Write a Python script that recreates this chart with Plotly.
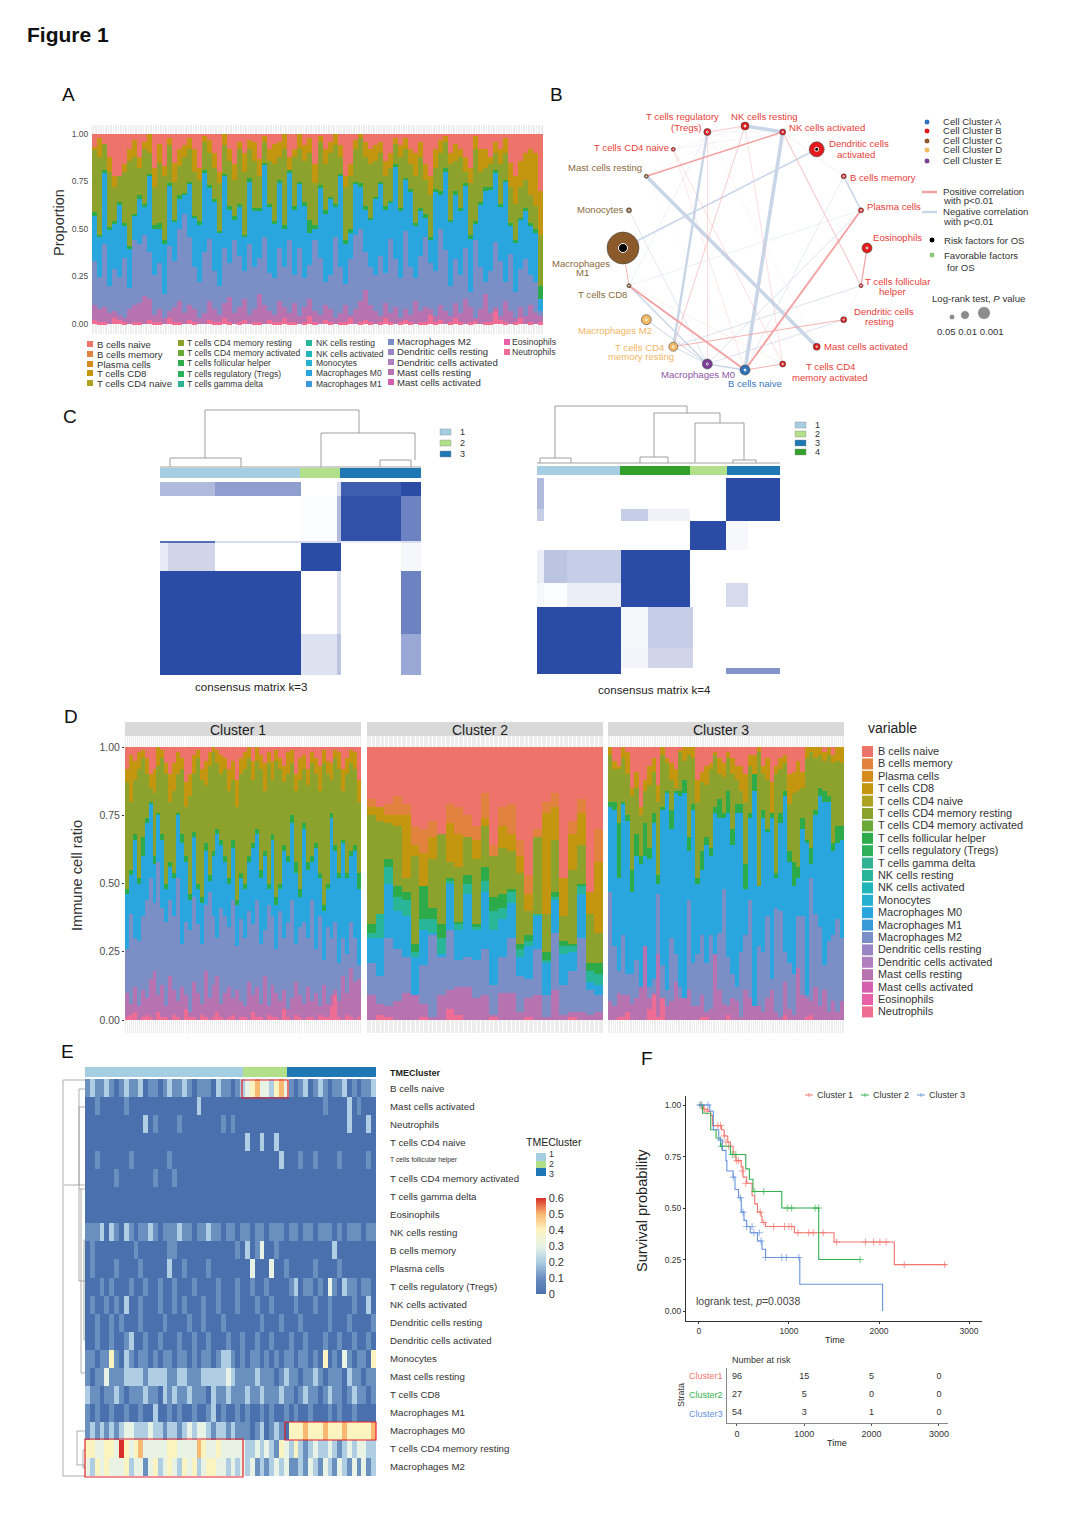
import numpy as np
import plotly.graph_objects as go

W, H = 1080, 1526
FONT = "Liberation Sans"

CELL_NAMES = ["B cells naive", "B cells memory", "Plasma cells", "T cells CD8", "T cells CD4 naive",
              "T cells CD4 memory resting", "T cells CD4 memory activated", "T cells follicular helper",
              "T cells regulatory (Tregs)", "T cells gamma delta", "NK cells resting", "NK cells activated",
              "Monocytes", "Macrophages M0", "Macrophages M1", "Macrophages M2", "Dendritic cells resting",
              "Dendritic cells activated", "Mast cells resting", "Mast cells activated", "Eosinophils", "Neutrophils"]
CELL_COLORS = ["#EE746B", "#E2823F", "#D68B1C", "#C4960F", "#AFA122", "#8DA22C", "#6AA93A", "#2DAB4A", "#2DB05A",
               "#2FB394", "#28B598", "#20B5B8", "#28B0D0", "#2AA6DE", "#3A9AD8", "#7B8EC6", "#9A84C4", "#B07FC0",
               "#B773B0", "#D45FAE", "#E860A8", "#EF6C95"]

# Panel A: upper edge of each visible layer per sample (percent)
a_neut = [2,1,1,0,3,2,1,0,1,1, 0,2,1,1,0,3,1,1,0,2, 1,0,0,2,1,1,3,1,0,1, 2,0,1,1,0,2,1,1,3,1, 1,0,1,4,1,0,2,1,0,1, 1,3,0,1,2,1,0,1,3,1, 0,1,2,1,0,1,1,5,1,2, 0,1,3,1,0,1,2,0,1,1, 7,2,1,0,1,3,0,1,0,1]
a_mast = [10,8,9,6,7,5,3,8,10,11, 15,13,5,8,3,7,9,12,6,10, 8,3,6,12,8,5,11,14,6,9, 13,5,8,16,10,7,5,12,9,6, 11,4,9,13,7,5,10,8,3,6, 10,5,8,12,18,10,7,4,11,6, 9,3,8,5,12,7,9,8,4,10, 7,4,11,6,13,9,3,8,16,6, 9,4,12,7,3,9,4,10,6,4]
a_m2 = [33,25,42,20,29,25,35,19,44,42, 47,38,26,32,16,41,33,50,58,46, 30,22,38,45,28,20,40,32,44,36, 28,42,30,35,46,27,24,40,30,44, 26,40,24,31,44,35,22,26,46,30, 21,34,47,50,38,30,26,36,27,45, 34,24,49,30,24,36,46,32,28,50, 39,20,34,26,40,17,44,30,22,28, 43,33,22,37,17,29,34,26,22,7]
a_m0 = [57,46,80,50,53,63,52,40,57,66, 62,78,50,50,42,73,54,66,68,74, 56,52,80,72,64,48,78,60,55,62, 46,75,60,60,84,62,53,74,50,80, 60,74,62,48,50,72,58,66,62,78, 42,48,74,72,60,55,66,74,60,64, 83,60,76,70,52,60,56,44,70,68, 80,54,68,60,73,45,53,63,70,71, 80,62,75,52,43,55,60,52,48,13]
a_green = [59,47,81,51,54,64,53,41,58,68, 63,79,52,53,44,74,55,68,69,75, 57,54,81,73,66,49,79,62,57,63, 47,77,61,61,85,63,54,76,52,81, 62,75,64,55,52,73,60,67,63,79, 44,50,75,74,62,56,67,75,62,65, 84,61,77,71,53,61,58,46,71,70, 82,55,70,61,74,47,54,64,72,72, 81,63,76,53,44,56,61,53,50,20]
a_olive = [92,88,95,80,72,78,80,86,88,82, 92,90,72,85,78,94,75,83,88,92, 80,76,96,90,82,74,94,86,76,92, 80,92,86,78,96,86,84,88,92,80, 88,92,86,90,74,96,84,90,94,88, 72,78,92,98,88,84,86,90,78,82, 95,88,92,84,78,88,76,68,82,90, 96,84,86,88,80,74,92,80,82,84, 90,84,90,72,63,72,76,68,62,47]
a_gold = [93,98,91,88,78,74,84,92,97,88, 96,100,82,95,83,98,85,92,94,98, 92,82,99,97,90,80,100,92,84,96, 90,97,96,87,99,92,95,96,100,88, 92,100,94,98,84,99,92,96,100,94, 78,84,97,100,96,92,94,96,86,90, 98,94,98,92,90,96,84,78,92,97, 99,90,95,92,88,82,99,92,92,88, 96,92,98,85,78,86,90,92,90,70]

# Panel D, Cluster 1
d1_neut = [1,2,3,0,1,2,1,0,3,1, 1,0,2,1,0,4,1,1,0,2, 1,0,1,3,1,0,1,2,0,1, 1,0,3,1,1,0,2,1,1,0, 4,1,0,2,1,0,1,1,0,2, 1,1,5,9,1,0,2,1,0,1]
d1_mast = [10,6,12,5,11,8,15,18,9,13, 5,16,11,7,12,9,3,14,10,6, 18,8,13,16,6,10,12,8,11,7, 5,14,9,12,6,16,5,13,10,7, 11,4,8,14,9,6,12,7,10,5, 13,6,9,11,7,16,10,19,14,15]
d1_m2 = [26,39,30,29,38,44,52,43,58,41, 36,44,38,52,28,36,33,45,35,28, 42,47,38,30,41,38,34,44,27,37, 30,40,35,44,28,33,42,38,26,40, 30,36,44,28,34,36,30,44,26,38, 22,34,30,36,21,30,24,36,30,20]
d1_m0 = [46,53,66,50,60,72,79,57,75,66, 48,56,52,75,65,58,44,67,48,43, 62,51,60,68,64,58,50,63,42,52, 48,58,63,68,52,60,48,66,42,48, 62,58,72,54,45,70,55,58,63,52, 40,48,74,62,52,65,52,60,62,48]
d1_green = [48,55,68,52,67,74,80,60,76,68, 50,58,54,76,68,60,46,69,50,45, 65,53,62,70,66,60,52,66,44,54, 50,60,65,70,55,62,50,68,45,50, 64,60,75,58,48,72,58,60,65,54, 42,50,76,64,54,66,54,62,64,54]
d1_olive = [87,80,88,92,96,90,85,83,93,96, 90,80,84,90,92,78,82,90,96,88, 86,93,98,94,90,92,84,88,78,90, 92,96,88,95,92,84,94,88,95,92, 87,90,94,84,88,92,86,94,90,84, 94,90,88,96,92,84,90,94,92,80]
d1_gold = [92,97,95,98,99,96,90,92,100,99, 94,90,94,98,96,87,90,97,99,92, 95,98,100,99,97,96,92,95,88,96, 98,100,95,100,97,94,98,95,99,96, 93,98,99,90,96,97,92,98,96,93, 99,95,94,99,98,92,96,99,98,88]

# Panel D, Cluster 2
d2_neut = [0,2,1,0,0,0,1,0,0,4, 2,0,0,0,1,0,0,0,1,0, 0,0,0,1,0,0,0]
d2_mast = [9,6,5,7,10,9,6,1,9,11, 12,12,8,9,2,10,10,3,8,9, 1,11,2,3,3,2,3]
d2_m2 = [21,16,30,26,23,9,20,31,23,33, 22,23,22,26,13,23,30,16,15,26, 9,32,13,18,30,11,9]
d2_m0 = [30,30,50,40,38,23,33,32,24,50, 33,46,33,47,33,37,43,23,27,38, 21,44,24,25,46,14,13]
d2_teal = [32,39,56,45,44,25,37,37,30,51, 35,50,34,51,40,41,47,26,29,39, 22,45,27,27,49,18,17]
d2_green = [35,39,59,49,47,28,49,41,35,52, 36,53,35,56,45,46,48,28,31,39, 25,47,29,28,50,21,21]
d2_olive = [75,73,72,71,52,60,49,59,68,58, 56,67,59,71,60,63,62,54,40,67, 39,66,38,55,64,39,32]
d2_gold = [78,78,75,75,75,64,61,67,61,72, 68,66,66,74,58,71,68,60,46,65, 76,78,52,68,76,47,58]
d2_orange = [81,78,79,82,79,71,70,73,63,79, 78,75,71,83,64,78,79,66,53,70, 80,83,52,73,81,47,70]

# Panel D, Cluster 3 (54 samples)
d3_neut = [0,0,1,1,3,0,0,0,0,4, 9,1,8,0,0,0,0,0,0,0, 0,1,1,0,0,0,0,2,0,0, 0,0,0,0,0,0,0,0,0,0, 2,0,0,0,0,1,2,0,0,0, 0,0,0,0]
d3_mast = [7,5,10,9,9,6,8,12,27,8, 10,24,6,5,7,14,8,8,11,5, 5,9,3,4,24,11,6,5,8,7, 1,11,8,5,5,3,8,11,3,1, 14,4,2,19,9,8,7,12,5,11, 3,7,3,7]
d3_m2 = [47,27,18,31,17,17,22,12,27,12, 15,46,20,11,30,24,12,8,44,21, 24,31,21,31,14,32,48,23,17,12, 25,31,44,2,27,25,38,15,41,40, 25,21,17,38,38,9,52,39,34,20, 29,31,37,30]
d3_m0 = [78,77,52,79,73,47,60,57,60,59, 72,50,77,83,70,83,82,83,62,77, 50,55,64,60,76,74,74,76,64,76, 76,48,74,84,49,74,69,74,52,72, 82,58,49,52,70,65,57,75,82,80, 80,62,65,66]
d3_green = [80,80,72,80,75,55,68,60,72,63, 76,53,78,84,77,84,84,88,67,79, 52,62,67,63,78,81,76,84,70,79, 79,57,76,90,49,77,70,76,54,76, 84,62,58,56,74,66,63,77,85,84, 82,65,71,71]
d3_olive = [97,92,92,96,90,82,85,75,84,86, 91,80,97,94,88,85,98,95,97,96, 80,87,86,92,97,90,89,96,90,88, 84,80,93,90,98,90,88,72,90,92, 94,79,83,84,85,96,98,96,97,95, 97,94,95,94]
d3_gold = [100,95,93,100,98,85,91,78,88,93, 96,86,100,96,94,92,99,100,100,100, 88,91,93,94,98,96,94,98,96,93, 93,90,97,97,100,93,96,87,93,96, 97,90,91,95,91,100,100,100,100,98, 100,97,100,100]

# Panel C: consensus matrices as block values
k3_x = [0, .03, .209, .54, .68, .693, .925, 1]
k3_y = [0, .074, .308, .316, .459, .79, 1]
k3_z = [[.4, .4, .55, 0, .2, .9, 1],
        [0, 0, 0, .02, .4, .97, .7],
        [.8, .8, .2, .2, .3, .1, .2],
        [.12, .25, 0, 1, 1, 0, .05],
        [1, 1, 1, 0, .2, 0, .7],
        [1, 1, 1, .18, .35, 0, .5]]
k4_x = [0, .03, .125, .345, .455, .63, .643, .779, .87, 1]
k4_y = [0, .16, .22, .366, .537, .656, .868, .97, 1]
k4_z = [[.4, 0, 0, 0, 0, 0, 0, 1, 1],
        [.3, 0, 0, .3, .08, 0, 0, 1, 1],
        [0, 0, 0, 0, 0, 1, 1, .04, 0],
        [.1, .35, .3, 1, 1, 0, 0, 0, 0],
        [.04, .02, .1, 1, 1, .03, 0, .22, 0],
        [1, 1, 1, .05, .3, .3, 0, 0, 0],
        [1, 1, 1, .06, .25, .25, 0, 0, 0],
        [1, 1, 1, 0, 0, 0, 0, .6, .6]]

# Panel B: correlation network
node_names = ["NK cells resting", "NK cells activated", "Dendritic cells activated", "B cells memory", "Plasma cells",
              "Eosinophils", "T cells follicular helper", "Dendritic cells resting", "Mast cells activated",
              "T cells CD4 memory activated", "B cells naive", "Macrophages M0", "T cells CD4 memory resting",
              "Macrophages M2", "T cells CD8", "Macrophages M1", "Monocytes", "Mast cells resting",
              "T cells CD4 naive", "T cells regulatory (Tregs)"]
node_group = list("BBBBBBBBBBAEDDCCCCBB")
node_size = [8, 6, 15, 5, 5, 10, 4, 6, 7, 6, 10, 10, 9, 10, 4, 32, 5, 4, 4, 7]
node_dot = [2, 1.5, 4, 1.5, 1.5, 2, 1, 1.5, 1.5, 1.5, 2, 2, 2, 2, 1, 9, 1.5, 1, 1, 2]
node_dot_kind = list("GRRRRRRRRRGRGGRRRRRR")
pos_edges = [(17, 1, 1.4), (19, 0, .7), (14, 10, 1.8), (10, 4, 1.8), (5, 6, 1.2), (15, 14, .9), (10, 9, .9), (12, 7, .9),
             (1, 6, .8), (0, 12, .7), (19, 11, .6), (0, 9, .5), (18, 9, .5), (18, 10, .4), (1, 3, .3), (14, 9, .3),
             (19, 8, .2), (0, 17, .2), (18, 0, .2)]
neg_edges = [(0, 1, 3.6), (1, 10, 3.6), (17, 8, 3.6), (19, 12, 2.4), (15, 2, 1.6), (3, 4, 1.6), (14, 11, 1.4),
             (11, 10, 1.4), (13, 11, 1), (12, 11, .9), (12, 6, .8), (11, 4, .8), (11, 7, .8), (14, 4, .5), (14, 19, .5),
             (16, 11, .7), (10, 3, .6), (6, 7, .3), (18, 1, .4), (19, 1, .4), (17, 10, .2)]

# Panel E: heat map rows (top to bottom), values in tenths
hm_labels = ["B cells naive", "Mast cells activated", "Neutrophils", "T cells CD4 naive", "T cells follicular helper",
             "T cells CD4 memory activated", "T cells gamma delta", "Eosinophils", "NK cells resting", "B cells memory",
             "Plasma cells", "T cells regulatory (Tregs)", "NK cells activated", "Dendritic cells resting",
             "Dendritic cells activated", "Monocytes", "Mast cells resting", "T cells CD8", "Macrophages M1",
             "Macrophages M0", "T cells CD4 memory resting", "Macrophages M2"]
r01 = [1,2,1,1,2,1,0,1,2,1,1,2,0,1,1,0,1,2,1,1,2,1,0,1,1,1,0,2,1,1,0,1,2, 3,4,5,3,3,2,4,5,3, 1,0,1,2,0,1,2,1,0,1,1,2,0,1,0,1,1,2]
r02 = [0,0,1,0,0,0,0,0,1,0,0,0,0,0,0,0,0,0,0,0,0,0,0,2,0,0,0,0,0,0,0,0,0, 0,0,0,0,0,0,0,0,0, 0,0,0,0,0,0,0,1,0,0,0,0,2,0,1,0,0,0]
r03 = [0,0,0,0,0,0,0,0,0,0,0,0,2,0,1,0,0,0,0,1,0,0,0,0,0,0,0,0,1,0,1,0,0, 0,0,0,0,0,0,0,0,0, 0,0,0,0,0,0,0,0,0,0,0,0,2,0,0,0,2,0]
r04 = [0,0,0,0,0,0,0,0,0,0,0,0,0,0,0,0,0,0,0,0,0,0,0,0,0,0,0,0,0,0,0,0,0, 2,0,0,2,0,0,2,0,0, 0,0,0,0,0,0,0,0,0,0,0,0,0,0,0,0,0,0]
r05 = [0,0,1,0,0,0,0,0,0,1,0,0,0,0,0,0,0,1,0,0,0,0,0,0,0,0,0,0,0,0,0,0,0, 0,0,0,0,0,0,0,2,0, 0,0,1,0,0,1,0,0,0,0,1,0,0,0,0,0,1,0]
r06 = [0,0,0,0,0,0,1,0,0,0,0,0,0,0,1,0,0,0,1,0,0,0,0,0,0,0,0,0,0,0,0,0,0, 0,0,0,0,0,0,0,0,0, 0,0,0,0,0,0,0,0,0,0,0,0,0,0,0,0,0,0]
r07 = [0,0,0,0,0,0,0,0,0,0,0,0,0,0,0,0,0,0,0,0,0,0,0,0,0,0,0,0,0,0,0,0,0, 0,0,0,0,0,0,0,0,0, 0,0,0,0,0,0,0,0,0,0,0,0,0,0,0,0,0,0]
r08 = [0,0,0,0,0,0,0,0,0,0,0,0,0,0,0,0,0,0,0,0,0,0,0,0,0,0,0,0,0,0,0,0,0, 0,0,0,0,0,0,0,0,0, 0,0,0,0,0,0,0,0,0,0,0,0,0,0,0,0,0,0]
r09 = [1,1,1,2,0,2,1,0,2,1,0,1,1,2,1,0,1,1,1,2,1,1,0,1,1,2,1,1,0,1,1,0,1, 1,0,1,1,0,1,1,1,0, 1,1,0,1,1,0,1,1,1,0,1,0,1,1,1,0,1,1]
r10 = [0,1,0,0,0,0,0,0,0,0,1,0,0,0,0,0,0,1,1,0,0,0,0,0,0,0,0,0,0,0,0,1,0, 2,0,1,3,0,0,1,0,0, 0,0,0,0,0,0,0,0,0,2,0,0,0,0,0,0,0,0]
r11 = [0,1,0,0,0,0,1,0,0,0,0,1,0,0,0,0,0,2,0,0,1,0,0,0,0,1,0,0,0,0,0,0,0, 0,3,0,0,0,3,0,0,1, 0,0,0,0,0,1,0,0,0,0,1,0,0,0,0,0,0,0]
r12 = [0,0,0,1,0,1,0,0,0,1,0,0,1,0,0,1,0,0,1,0,0,0,1,0,0,0,0,1,0,0,0,1,0, 0,1,0,0,1,0,0,0,0, 1,2,0,1,1,0,1,0,3,1,0,2,1,1,0,1,1,0]
r13 = [0,1,0,0,1,0,1,0,2,0,0,1,0,0,0,1,0,0,1,0,1,0,0,0,1,0,0,1,0,0,0,1,0, 0,0,1,0,0,1,0,0,0, 0,1,0,0,0,1,0,0,1,0,0,0,0,1,0,0,2,0]
r14 = [0,0,1,0,0,1,0,1,0,0,0,1,0,0,0,0,1,0,0,0,0,1,0,0,1,0,0,0,1,0,0,0,0, 0,0,0,1,0,0,0,1,0, 0,0,1,0,0,0,0,0,1,0,0,0,1,0,0,0,0,1]
r15 = [0,0,1,0,0,1,0,0,1,2,0,0,1,0,0,1,0,0,0,1,0,0,1,0,0,1,0,0,0,1,0,0,1, 0,0,1,0,0,1,0,0,0, 1,0,0,1,0,0,0,1,0,0,1,0,0,1,0,0,1,0]
r16 = [1,1,0,1,1,4,1,0,2,1,0,1,1,0,1,0,1,1,0,1,1,0,1,0,1,1,0,1,2,2,1,0,1, 0,1,1,0,1,0,1,0,1, 1,0,1,1,0,1,0,4,0,1,0,3,1,0,1,1,0,4]
r17 = [1,0,1,1,3,1,1,1,2,2,2,2,1,2,2,2,2,1,1,2,2,1,1,1,2,2,2,2,2,3,2,1,1, 1,1,2,1,1,1,0,1,2, 1,1,0,1,1,2,1,0,1,1,1,0,2,1,1,0,1,1]
r18 = [2,1,1,0,1,1,2,1,0,1,1,1,2,1,1,0,2,1,2,1,1,2,1,1,1,0,2,1,1,2,1,1,1, 2,1,1,2,1,1,1,2,1, 1,0,1,2,1,1,0,1,2,1,1,0,1,2,1,1,0,1]
r19 = [1,0,1,0,0,1,0,0,1,0,0,1,0,0,2,0,0,1,0,1,0,0,1,0,0,1,2,0,1,0,0,1,0, 1,0,0,1,0,1,0,0,1, 0,1,0,0,1,0,0,0,1,0,1,0,0,1,0,0,0,0]
r20 = [1,2,1,2,1,2,1,2,3,3,2,2,2,3,2,2,1,2,2,1,2,3,2,3,3,2,1,2,2,1,2,1,1, 1,0,1,2,0,1,2,1,0, 4,4,4,5,4,4,4,5,4,4,4,5,4,4,4,4,4,5]
r21 = [4,4,3,3,4,4,3,6,4,3,4,5,3,3,3,3,3,4,4,3,3,3,3,5,4,3,3,4,3,3,3,3,3, 2,2,3,2,3,2,1,4,3, 2,4,2,1,2,3,2,2,3,2,1,2,3,2,3,3,2,2]
r22 = [3,2,4,3,4,3,3,3,4,2,3,3,1,3,4,2,3,4,3,2,4,3,4,2,3,4,4,3,3,2,3,2,3, 2,3,1,2,1,2,3,2,3, 1,1,2,1,3,2,1,3,2,1,3,2,1,3,1,3,1,2]
hm_rows = [r01, r02, r03, r04, r05, r06, r07, r08, r09, r10, r11, r12, r13, r14, r15, r16, r17, r18, r19, r20, r21, r22]

# Panel F: Kaplan-Meier curves
km1_t = [0, 50, 100, 130, 150, 250, 280, 320, 350, 380, 410, 470, 490, 530, 590, 620, 650, 690, 700, 740, 1060, 1500, 2170, 2750]
km1_s = [1, .98, .97, .95, .90, .88, .85, .82, .80, .76, .73, .70, .65, .62, .56, .52, .48, .46, .43, .41, .38, .335, .225, .225]
km2_t = [0, 40, 130, 190, 240, 350, 520, 560, 600, 920, 1330, 1790]
km2_s = [1, .96, .88, .84, .80, .76, .69, .64, .58, .50, .25, .25]
km3_t = [0, 120, 160, 220, 260, 300, 310, 380, 400, 440, 470, 500, 530, 570, 650, 700, 740, 1120, 2040]
km3_s = [1, .97, .88, .83, .78, .73, .68, .65, .59, .55, .48, .44, .41, .38, .34, .30, .26, .13, 0]
cen1_t = [20, 60, 90, 210, 240, 280, 300, 330, 390, 420, 440, 480, 520, 680, 720, 830, 950, 1000, 1030, 1100, 1220, 1270, 1380, 1530, 1850, 1940, 2010, 2080, 2280, 2730]
cen1_s = [1, .98, .97, .90, .90, .85, .82, .80, .76, .73, .73, .68, .62, .48, .43, .41, .41, .41, .41, .38, .38, .38, .38, .335, .335, .335, .335, .335, .225, .225]
cen2_t = [30, 250, 370, 410, 620, 720, 980, 1030, 1290, 1330, 1790]
cen2_s = [1, .80, .76, .76, .58, .58, .50, .50, .50, .50, .25]
cen3_t = [10, 100, 240, 380, 460, 490, 530, 590, 610, 670, 690, 740, 920, 970, 1110]
cen3_s = [1, 1, .83, .65, .55, .48, .41, .41, .38, .38, .34, .26, .26, .26, .26]
risk_times = [0, 1000, 2000, 3000]
risk_c1 = [96, 15, 5, 0]
risk_c2 = [27, 5, 0, 0]
risk_c3 = [54, 3, 1, 0]

# ---------------- helpers ----------------
fig = go.Figure()
annots, shapes, layout_axes = [], [], {}
ax_count = [0]


def px(x):
    return x / W


def py(y):
    return 1 - y / H


def T(x, y, s, size=9, color="#222222", anchor="left", angle=0):
    annots.append(dict(x=px(x), y=py(y), xref="paper", yref="paper", text=s, showarrow=False, xanchor=anchor,
                       yanchor="middle", align=anchor, textangle=angle, borderpad=0,
                       font=dict(size=size, color=color, family=FONT)))


def R(x0, y0, x1, y1, fill, line=None, lw=0, layer="above"):
    shapes.append(dict(type="rect", xref="paper", yref="paper", x0=px(x0), x1=px(x1), y0=py(y0), y1=py(y1),
                       fillcolor=fill, line=dict(color=line or "rgba(0,0,0,0)", width=lw), layer=layer))


def L(x0, y0, x1, y1, color, lw=1):
    shapes.append(dict(type="line", xref="paper", yref="paper", x0=px(x0), x1=px(x1), y0=py(y0), y1=py(y1),
                       line=dict(color=color, width=lw), layer="above"))


def axes(l, t, r, b, xrange, yrange, xopts=None, yopts=None):
    ax_count[0] += 1
    k = ax_count[0]
    base = dict(showgrid=False, zeroline=False, showline=False, ticks="", showticklabels=False, fixedrange=True)
    xa = dict(base, domain=[px(l), px(r)], range=xrange, anchor=f"y{k}")
    ya = dict(base, domain=[py(b), py(t)], range=yrange, anchor=f"x{k}")
    xa.update(xopts or {})
    ya.update(yopts or {})
    layout_axes[f"xaxis{k}"] = xa
    layout_axes[f"yaxis{k}"] = ya
    return f"x{k}", f"y{k}"


def stack(xa, ya, layers):
    """layers: (upper-edge list, colour, name), from bottom to top."""
    prev = None
    for edge, col, name in layers:
        e = np.array(edge, dtype=float)
        y = e if prev is None else np.maximum(e - prev, 0)
        prev = e if prev is None else np.maximum(e, prev)
        fig.add_trace(go.Bar(x=list(range(len(e))), y=y / 100, marker=dict(color=col, line=dict(width=0)), name=name,
                             xaxis=xa, yaxis=ya, showlegend=False, hoverinfo="name+y"))


GRID = dict(showgrid=True, gridcolor="#ffffff", gridwidth=.5, tick0=-.5, dtick=.5)
C = dict(zip(CELL_NAMES, CELL_COLORS))

# ---------------- titles ----------------
T(26, 35, "<b>Figure 1</b>", 21, "#111111")
for s, x, y in [("A", 61, 94), ("B", 549, 94), ("C", 62, 417), ("D", 63, 716), ("E", 60, 1051), ("F", 640, 1058)]:
    T(x, y, s, 19, "#111111")

# ---------------- panel A ----------------
R(92, 125, 543, 334, "#ededed", layer="below")
xa, ya = axes(92, 125, 543, 334, [-.5, len(a_gold) - .5], [-.0526, 1.0474], GRID,
              dict(showticklabels=True, tickvals=[0, .25, .5, .75, 1], ticktext=["0.00", "0.25", "0.50", "0.75", "1.00"],
                   tickfont=dict(size=8.5, color="#4d4d4d", family=FONT), ticks="outside", ticklen=1, tickcolor="#ffffff"))
n = len(a_gold)
stack(xa, ya, [(a_neut, C["Neutrophils"], "Neutrophils"), (a_mast, C["Mast cells resting"], "Mast cells resting"),
               (a_m2, C["Macrophages M2"], "Macrophages M2"), (a_m0, C["Macrophages M0"], "Macrophages M0"),
               (a_green, C["T cells follicular helper"], "T cells follicular helper"),
               (a_olive, C["T cells CD4 memory resting"], "T cells CD4 memory resting"),
               (a_gold, C["T cells CD8"], "T cells CD8"), ([100] * n, C["B cells naive"], "B cells naive")])
T(59, 223, "Proportion", 14.5, "#333333", "center", -90)
leg_cols = [(87, 96, [344, 354, 364, 373, 383], 9.6, 0, 5), (178, 186, [343, 353, 363, 374, 384], 8.5, 5, 10),
            (306, 315, [343, 354, 363, 373, 384], 8.5, 10, 15), (388, 396, [342, 352, 362, 372, 382], 9.6, 15, 20),
            (504, 511, [342, 352], 8.6, 20, 22)]
for sx, tx, ys, fs, a, b in leg_cols:
    for y, i in zip(ys, range(a, b)):
        R(sx, y - 3, sx + 6, y + 3, CELL_COLORS[i])
        T(tx, y, CELL_NAMES[i], fs, "#333333")

# ---------------- panel B ----------------
xa, ya = axes(600, 103, 890, 393, [-145, 145], [145, -145])
ang = np.arange(len(node_names)) / len(node_names) * 2 * np.pi
nx, ny = 122 * np.sin(ang), -122 * np.cos(ang)
for edges, col in [(neg_edges, "#C9D6E8"), (pos_edges, "#F2A0A0")]:
    for a, b, w in edges:
        op = 1 if w >= 1 else .35 + .6 * w
        fig.add_trace(go.Scatter(x=[nx[a], nx[b]], y=[ny[a], ny[b]], mode="lines", xaxis=xa, yaxis=ya, opacity=op,
                                 line=dict(color=col, width=w), showlegend=False, hoverinfo="skip"))
GROUP = dict(A="#2F72B8", B="#E41A1C", C="#8B5A2B", D="#F5B862", E="#7B3F98")
fig.add_trace(go.Scatter(x=nx, y=ny, mode="markers", xaxis=xa, yaxis=ya, showlegend=False, text=node_names, hoverinfo="text",
                         marker=dict(size=node_size, opacity=1, color=[GROUP[g] for g in node_group],
                                     line=dict(color="#444444", width=.6))))
fig.add_trace(go.Scatter(x=nx, y=ny, mode="markers", xaxis=xa, yaxis=ya, showlegend=False, hoverinfo="skip",
                         marker=dict(size=node_dot, opacity=1, color=["#8CC97A" if k == "G" else "#000000" for k in node_dot_kind])))
red, brown, orange, purple, blue = "#E8403A", "#8B6B3E", "#F3B566", "#8E55A5", "#3B78BE"
net_labels = [("T cells regulatory", 682, 116, red), ("(Tregs)", 686, 128, red), ("NK cells resting", 764, 116, red),
              ("NK cells activated", 827, 128, red), ("Dendritic cells", 859, 144, red), ("activated", 856, 155, red),
              ("T cells CD4 naive", 631, 148, red), ("Mast cells resting", 605, 167, brown), ("B cells memory", 883, 177, red),
              ("Monocytes", 600, 209, brown), ("Plasma cells", 894, 206, red), ("Eosinophils", 897, 238, red),
              ("Macrophages", 581, 263, brown), ("M1", 582, 272, brown), ("T cells follicular", 898, 281, red),
              ("helper", 892, 292, red), ("T cells CD8", 602, 295, brown), ("Dendritic cells", 884, 312, red),
              ("resting", 879, 321, red), ("Macrophages M2", 615, 331, orange), ("T cells CD4", 640, 347, orange),
              ("memory resting", 641, 356, orange), ("Mast cells activated", 866, 346, red),
              ("Macrophages M0", 698, 374, purple), ("B cells naive", 755, 383, blue), ("T cells CD4", 831, 366, red),
              ("memory activated", 830, 377, red)]
for s, x, y, c in net_labels:
    T(x, y, s, 9.6, c, "center")
xb, yb = axes(0, 0, W, H, [0, W], [H, 0])
leg_dots_x = [927, 927, 927, 927, 927, 932, 932, 952, 965, 984]
leg_dots_y = [122, 131, 141, 150, 161, 240, 255, 317, 315, 313]
leg_dots_c = [GROUP["A"], GROUP["B"], GROUP["C"], GROUP["D"], GROUP["E"], "#000000", "#8CC97A", "#8c8c8c", "#8c8c8c", "#8c8c8c"]
leg_dots_s = [6, 6, 6, 6, 6, 6, 6, 6, 9, 13]
fig.add_trace(go.Scatter(x=leg_dots_x, y=leg_dots_y, mode="markers", xaxis=xb, yaxis=yb, showlegend=False, hoverinfo="skip",
                         marker=dict(size=leg_dots_s, opacity=1, color=leg_dots_c)))
for s, y in zip(["Cell Cluster A", "Cell Cluster B", "Cell Cluster C", "Cell Cluster D", "Cell Cluster E"], [121, 130, 140, 149, 160]):
    T(942, y, s, 9.6, "#333333")
L(922, 192, 937, 192, "#F2A0A0", 2.4)
L(922, 212, 937, 212, "#C9D6E8", 2.4)
T(942, 191, "Positive correlation", 9.6, "#333333")
T(942, 201, "with p<0.01", 9.6, "#333333")
T(942, 212, "Negative correlation", 9.6, "#333333")
T(942, 222, "with p<0.01", 9.6, "#333333")
T(943, 241, "Risk factors for OS", 9.6, "#333333")
T(943, 256, "Favorable factors", 9.6, "#333333")
T(946, 268, "for OS", 9.6, "#333333")
T(978, 298, "Log-rank test, <i>P</i> value", 9.6, "#333333", "center")
T(970, 332, "0.05 0.01 0.001", 9.6, "#333333", "center")

# ---------------- panel C ----------------
BLUES = [[0, "#ffffff"], [.3, "#C6CDE6"], [1, "#2A4BA6"]]
for k_x, k_y, k_z, l, t, r, b in [(k3_x, k3_y, k3_z, 160, 482, 421, 675), (k4_x, k4_y, k4_z, 537, 478, 780, 674)]:
    xa, ya = axes(l, t, r, b, [0, 1], [1, 0])
    fig.add_trace(go.Heatmap(x=k_x, y=k_y, z=k_z, xaxis=xa, yaxis=ya, colorscale=BLUES, zmin=0, zmax=1, showscale=False,
                             hoverinfo="skip"))
ANN1, ANN2, ANN3, ANN4 = "#A6CEE3", "#B2DF8A", "#1F78B4", "#33A02C"
k3_bar_edges = [160, 300, 340, 421]
k4_bar_edges = [537, 620, 690, 727, 780]
e_bar_edges = [85, 243, 287, 376]
for edges, cols, y0, y1 in [(k3_bar_edges, [ANN1, ANN2, ANN3], 468, 478), (k4_bar_edges, [ANN1, ANN4, ANN2, ANN3], 466, 475),
                            (e_bar_edges, [ANN1, ANN2, ANN3], 1067, 1077)]:
    for i, c in enumerate(cols):
        R(edges[i], y0, edges[i + 1], y1, c)
for y, c, s in [(432, ANN1, "1"), (443, ANN2, "2"), (454, ANN3, "3")]:
    R(440, y - 3, 451, y + 3, c, "#888888", .4)
    T(459, y, s, 9, "#333333")
for y, c, s in [(425, ANN1, "1"), (434, ANN2, "2"), (443, ANN3, "3"), (452, ANN4, "4")]:
    R(795, y - 3, 806, y + 3, c, "#888888", .4)
    T(814, y, s, 9, "#333333")
T(251, 686, "consensus matrix k=3", 11.6, "#222222", "center")
T(654, 689, "consensus matrix k=4", 11.6, "#222222", "center")
dendro_k3_x = [205, 205, 359, 359, None, 321, 321, 415, 415, None, 170, 170, 241, 241, None, 380, 380, 411, 411, None, 160, 421]
dendro_k3_y = [458, 410, 410, 433, None, 467, 433, 433, 460, None, 467, 458, 458, 467, None, 467, 460, 460, 467, None, 467, 467]
dendro_k4_x = [555, 555, 687, 687, None, 654, 654, 720, 720, None, 695, 695, 744, 744, None, 540, 540, 571, 571, None, 640, 640, 668, 668, None, 733, 733, 756, 756, None, 537, 780]
dendro_k4_y = [458, 406, 406, 413, None, 457, 413, 413, 423, None, 462, 423, 423, 460, None, 463, 458, 458, 463, None, 463, 457, 457, 463, None, 463, 460, 460, 463, None, 463, 463]
for dx, dy in [(dendro_k3_x, dendro_k3_y), (dendro_k4_x, dendro_k4_y)]:
    fig.add_trace(go.Scatter(x=dx, y=dy, mode="lines", xaxis=xb, yaxis=yb, showlegend=False, hoverinfo="skip",
                             line=dict(color="#888888", width=.8)))

# ---------------- panel D ----------------
tick_opts = dict(showticklabels=True, tickvals=[0, .25, .5, .75, 1], ticktext=["0.00", "0.25", "0.50", "0.75", "1.00"],
                 tickfont=dict(size=10.5, color="#4d4d4d", family=FONT), ticks="outside", ticklen=2, tickcolor="#333333")
facets = [
    ("Cluster 1", 125, 361, [(d1_neut, "Neutrophils"), (d1_mast, "Mast cells resting"), (d1_m2, "Macrophages M2"), (d1_m0, "Macrophages M0"),
                             (d1_green, "T cells follicular helper"), (d1_olive, "T cells CD4 memory resting"), (d1_gold, "T cells CD8")]),
    ("Cluster 2", 367, 603, [(d2_neut, "Neutrophils"), (d2_mast, "Mast cells resting"), (d2_m2, "Macrophages M2"), (d2_m0, "Macrophages M0"),
                             (d2_teal, "NK cells resting"), (d2_green, "T cells follicular helper"), (d2_olive, "T cells CD4 memory resting"),
                             (d2_gold, "T cells CD8"), (d2_orange, "B cells memory")]),
    ("Cluster 3", 608, 844, [(d3_neut, "Neutrophils"), (d3_mast, "Mast cells resting"), (d3_m2, "Macrophages M2"), (d3_m0, "Macrophages M0"),
                             (d3_green, "T cells follicular helper"), (d3_olive, "T cells CD4 memory resting"), (d3_gold, "T cells CD8")]),
]
for i, (title, l, r, lays) in enumerate(facets):
    R(l, 736, r, 1033, "#ededed", layer="below")
    R(l, 722, r, 736, "#d9d9d9", layer="below")
    T((l + r) / 2 - 5, 730, title, 14, "#222222", "center")
    m = len(lays[0][0])
    xa, ya = axes(l, 736, r, 1033, [-.5, m - .5], [-.0476, 1.0403], GRID, tick_opts if i == 0 else None)
    stack(xa, ya, [(e, C[nm], nm) for e, nm in lays] + [([100] * m, C["B cells naive"], "B cells naive")])
T(77, 876, "Immune cell ratio", 14.6, "#333333", "center", -90)
T(867, 728, "variable", 14, "#222222")
for i, (nm, col) in enumerate(zip(CELL_NAMES, CELL_COLORS)):
    y = 751 + 12.4 * i
    R(862, y - 5, 873, y + 6, col)
    T(877, y, nm, 10.9, "#333333")

# ---------------- panel E ----------------
HEAT = [[0, "#4A71AD"], [1 / 6, "#6A90C0"], [2 / 6, "#AFCEE3"], [3 / 6, "#E8F3E6"], [4 / 6, "#FBF3C0"], [5 / 6, "#F9B872"], [1, "#D73027"]]
cols = np.arange(len(r01))
rows = np.arange(len(hm_rows))
xa, ya = axes(85, 1079, 376, 1476, [-.5, len(r01) - .5], [len(hm_rows) - .5, -.5])
fig.add_trace(go.Heatmap(x=cols, y=rows, z=np.array(hm_rows) / 10, xaxis=xa, yaxis=ya, colorscale=HEAT, zmin=0, zmax=.6,
                         hoverinfo="skip", showscale=True,
                         colorbar=dict(x=px(536), xanchor="left", y=py(1198), yanchor="top", lenmode="pixels", len=96, thickness=10,
                                       thicknessmode="pixels", outlinewidth=0, tickvals=[0, .1, .2, .3, .4, .5, .6],
                                       ticktext=["0", "0.1", "0.2", "0.3", "0.4", "0.5", "0.6"], ticks="", xpad=0, ypad=0,
                                       tickfont=dict(size=11, color="#333333", family=FONT))))
T(389, 1073, "<b>TMECluster</b>", 9, "#222222")
for i, s in enumerate(hm_labels):
    if s == "T cells follicular helper":
        T(389, 1088 + 18 * i, s, 6.8, "#333333")
    else:
        T(389, 1088 + 18 * i, s, 9.7, "#333333")
T(525, 1142, "TMECluster", 10.5, "#222222")
for y0, y1, c, s, ty in [(1153, 1161, ANN1, "1", 1154), (1161, 1168, ANN2, "2", 1164), (1168, 1176, ANN3, "3", 1174)]:
    R(536, y0, 546, y1, c)
    T(548, ty, s, 8.8, "#333333")
for x0, y0, x1, y1 in [(242, 1080, 288, 1098), (285, 1422, 376, 1440), (85, 1439, 243, 1477)]:
    R(x0, y0, x1, y1, "rgba(0,0,0,0)", "#E3202A", 1.2)
dendro_e_x = [85, 63, 63, 85, None, 64, 79, None, 79, 79, None, 79, 85, None, 79, 85, None, 85, 79, 79, 85, None, 79, 81, None, 81, 81, None, 81, 85,
              None, 81, 85, None, 85, 84, 84, 85, None, 77, 77, 85, None, 77, 85, None, 83, 83, 85, None, 83, 85]
dendro_e_y = [1080, 1080, 1476, 1476, None, 1185, 1185, None, 1089, 1281, None, 1089, 1089, None, 1281, 1281, None, 1107, 1107, 1185, 1185, None, 1189, 1189, None, 1189, 1373, None, 1373, 1373,
              None, 1189, 1189, None, 1240, 1240, 1340, 1340, None, 1431, 1465, 1465, None, 1431, 1431, None, 1450, 1468, 1468, None, 1450, 1450]
fig.add_trace(go.Scatter(x=dendro_e_x, y=dendro_e_y, mode="lines", xaxis=xb, yaxis=yb, showlegend=False, hoverinfo="skip",
                         line=dict(color="#999999", width=.8)))

# ---------------- panel F ----------------
KM_C = dict(c1="#F2766E", c2="#35B24F", c3="#6594DC")
axis_f = dict(showline=True, linecolor="#333333", linewidth=1, showticklabels=True, ticks="outside", ticklen=2, tickcolor="#333333",
              tickfont=dict(size=8.5, color="#333333", family=FONT))
xa, ya = axes(686, 1096, 982, 1321, [-144, 3144], [-.0485, 1.044],
              dict(axis_f, tickvals=[0, 1000, 2000, 3000], ticktext=["0", "1000", "2000", "3000"]),
              dict(axis_f, tickvals=[0, .25, .5, .75, 1], ticktext=["0.00", "0.25", "0.50", "0.75", "1.00"]))
for t_, s_, ct, cs, c, nm in [(km1_t, km1_s, cen1_t, cen1_s, KM_C["c1"], "Cluster 1"), (km2_t, km2_s, cen2_t, cen2_s, KM_C["c2"], "Cluster 2"),
                              (km3_t, km3_s, cen3_t, cen3_s, KM_C["c3"], "Cluster 3")]:
    fig.add_trace(go.Scatter(x=t_, y=s_, mode="lines", xaxis=xa, yaxis=ya, name=nm, showlegend=False,
                             line=dict(color=c, width=1.1, shape="hv")))
    fig.add_trace(go.Scatter(x=ct, y=cs, mode="markers", xaxis=xa, yaxis=ya, name=nm, showlegend=False,
                             marker=dict(symbol="cross-thin", size=5, line=dict(color=c, width=.7))))
T(642, 1211, "Survival probability", 14.6, "#222222", "center", -90)
T(835, 1340, "Time", 9, "#222222", "center")
T(695, 1301, "logrank test, <i>p</i>=0.0038", 10.5, "#444444")
for x0, x1, c, s in [(805, 813, KM_C["c1"], "Cluster 1"), (861, 869, KM_C["c2"], "Cluster 2"), (917, 925, KM_C["c3"], "Cluster 3")]:
    L(x0, 1095, x1, 1095, c, 1)
    L((x0 + x1) / 2, 1093, (x0 + x1) / 2, 1097, c, .8)
    T(x1 + 3, 1095, s, 9, "#333333")

xa, ya = axes(727, 1368, 948, 1423, [-148, 3135], [2.58, -.46],
              dict(showline=True, linecolor="#888888", linewidth=1, showticklabels=True, tickvals=risk_times,
                   ticktext=["0", "1000", "2000", "3000"], ticks="outside", ticklen=2, tickcolor="#555555",
                   tickfont=dict(size=9, color="#333333", family=FONT)),
              dict(showline=True, linecolor="#888888", linewidth=1))
for i, vals in enumerate([risk_c1, risk_c2, risk_c3]):
    fig.add_trace(go.Scatter(x=risk_times, y=[i] * 4, text=[str(v) for v in vals], mode="text", xaxis=xa, yaxis=ya, showlegend=False,
                             hoverinfo="skip", textfont=dict(size=9, color="#333333", family=FONT)))
T(761, 1360, "Number at risk", 9, "#333333", "center")
T(681, 1395, "Strata", 9, "#333333", "center", -90)
T(837, 1443, "Time", 9, "#222222", "center")
for y, c, s in [(1376, KM_C["c1"], "Cluster1"), (1395, KM_C["c2"], "Cluster2"), (1414, KM_C["c3"], "Cluster3")]:
    T(724, y, s, 9, c, "right")

fig.update_layout(width=W, height=H, margin=dict(l=0, r=0, t=0, b=0, pad=0), paper_bgcolor="#ffffff", plot_bgcolor="rgba(0,0,0,0)",
                  barmode="stack", bargap=0, showlegend=False, font=dict(family=FONT), annotations=annots, shapes=shapes,
                  hovermode="closest", **layout_axes)
fig.write_html("out.html", post_script="document.body.style.margin='0';document.body.style.background='#fff';",
               config=dict(displayModeBar=False))
